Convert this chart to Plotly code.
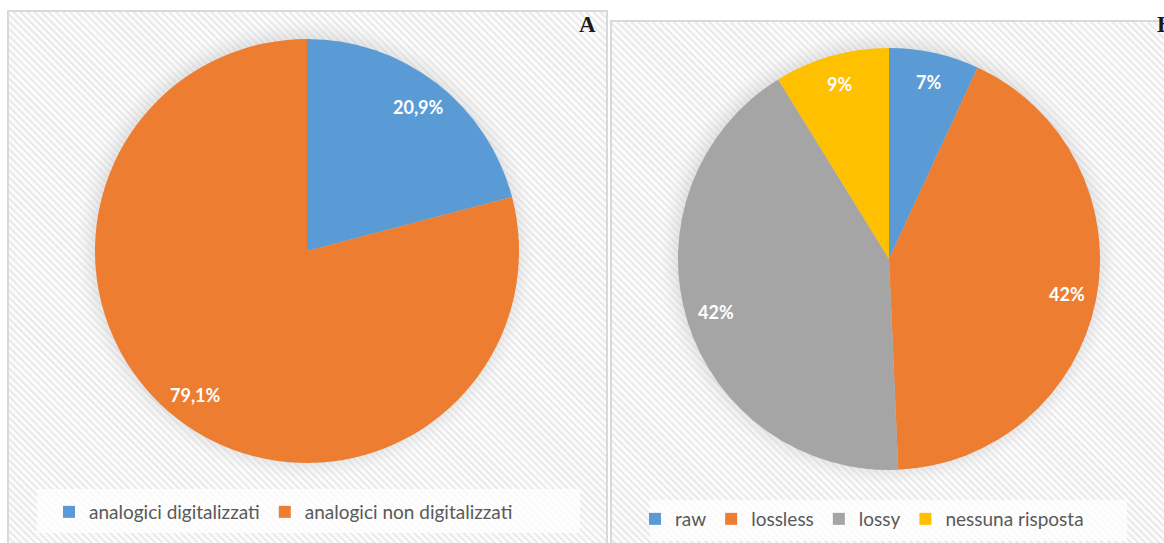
import base64
import math
import plotly.graph_objects as go

W, H = 1164, 543

# ---- data ----
labels_a = ["analogici digitalizzati", "analogici non digitalizzati"]
values_a = [20.9, 79.1]
colors_a = ["#5B9BD5", "#ED7D31"]

labels_b = ["raw", "lossless", "lossy", "nessuna risposta"]
values_b = [6.9, 42.4, 41.9, 8.8]
colors_b = ["#5B9BD5", "#ED7D31", "#A5A5A5", "#FFC000"]

panel_titles = ["A", "B"]

# ---- geometry (pixels) ----
ca, ra = (307, 251), 212
cb, rb = (889, 259), 211
LABEL_FRAC = 0.86


def dom(c, r):
    return dict(x=[(c[0] - r) / W, (c[0] + r) / W],
                y=[1 - (c[1] + r) / H, 1 - (c[1] - r) / H])


def slice_labels(values, c, r, decimals):
    total = sum(values)
    out = []
    cum = 0.0
    for v in values:
        mid = (cum + v / 2) / total * 2 * math.pi
        cum += v
        px = c[0] + LABEL_FRAC * r * math.sin(mid)
        py = c[1] - LABEL_FRAC * r * math.cos(mid)
        pct = v / total * 100
        txt = f"{pct:.{decimals}f}".replace(".", ",") + "%"
        out.append(dict(text=txt, x=px / W, y=1 - py / H, xref="paper", yref="paper",
                        xanchor="center", yanchor="middle", showarrow=False,
                        font=dict(family="Lato", size=18, color="white", weight="bold")))
    return out


# ---- background svg (hatched panels, soft shadows, legend boxes) ----
def shadow(c, r):
    return f'<circle cx="{c[0]-1}" cy="{c[1]-2}" r="{r+18}" fill="url(#sh)" />'

svg = f'''<svg xmlns="http://www.w3.org/2000/svg" width="{W}" height="{H}" viewBox="0 0 {W} {H}">
<defs>
<pattern id="hp" width="5" height="5" patternUnits="userSpaceOnUse" patternTransform="rotate(-45)">
<rect width="5" height="5" fill="#fcfcfc"/>
<rect width="2" height="5" fill="#e9e9e9"/>
</pattern>
<radialGradient id="sh">
<stop offset="0.86" stop-color="#b0b0b0" stop-opacity="0.6"/>
<stop offset="0.93" stop-color="#c8c8c8" stop-opacity="0.35"/>
<stop offset="1" stop-color="#e0e0e0" stop-opacity="0"/>
</radialGradient>
</defs>
<rect width="{W}" height="{H}" fill="white"/>
<rect x="8" y="11" width="599" height="570" fill="url(#hp)" stroke="#d9d9d9" stroke-width="2"/>
<rect x="611" y="21" width="580" height="570" fill="url(#hp)" stroke="#d9d9d9" stroke-width="2"/>
{shadow(ca, ra)}
{shadow(cb, rb)}
<rect x="37" y="489" width="543" height="44" fill="white" fill-opacity="0.75"/>
<rect x="650" y="500" width="477" height="41" fill="white" fill-opacity="0.75"/>
</svg>'''
src = "data:image/svg+xml;base64," + base64.b64encode(svg.encode()).decode()

fig = go.Figure()

fig.add_trace(go.Pie(
    labels=labels_a, values=values_a, sort=False, direction="clockwise", rotation=0,
    marker=dict(colors=colors_a, line=dict(width=0)),
    textinfo="none", domain=dom(ca, ra), legend="legend", hoverinfo="label+percent",
))
fig.add_trace(go.Pie(
    labels=labels_b, values=values_b, sort=False, direction="clockwise", rotation=0,
    marker=dict(colors=colors_b, line=dict(width=0)),
    textinfo="none", domain=dom(cb, rb), legend="legend2", hoverinfo="label+percent",
))

legend_common = dict(orientation="h", yanchor="middle",
                     font=dict(family="Lato", size=19, color="#595959"),
                     bgcolor="rgba(0,0,0,0)", itemclick=False, itemdoubleclick=False)

annotations = slice_labels(values_a, ca, ra, 1) + slice_labels(values_b, cb, rb, 0)
annotations += [
    dict(text=panel_titles[0], x=587 / W, y=1 - 25 / H, xref="paper", yref="paper",
         xanchor="center", yanchor="middle", showarrow=False,
         font=dict(family="Liberation Serif", size=23, color="#1a1a1a", weight="bold")),
    dict(text=panel_titles[1], x=1155 / W, y=1 - 25 / H, xref="paper", yref="paper",
         showarrow=False, xanchor="left", yanchor="middle",
         font=dict(family="Liberation Serif", size=23, color="#1a1a1a", weight="bold")),
]

fig.update_layout(
    width=W, height=H, margin=dict(l=0, r=0, t=0, b=0),
    paper_bgcolor="white", separators=",.",
    legend=dict(x=49 / W, xanchor="left", y=1 - 512 / H, **legend_common),
    legend2=dict(x=862 / W, xanchor="center", y=1 - 519 / H, **legend_common),
    images=[dict(source=src, xref="paper", yref="paper", x=0, y=1, sizex=1, sizey=1,
                 xanchor="left", yanchor="top", sizing="stretch", layer="below")],
    annotations=annotations,
)

fig.write_html("out.html", config={"displayModeBar": False},
               post_script="document.body.style.margin='0';document.body.style.overflow='hidden';")
